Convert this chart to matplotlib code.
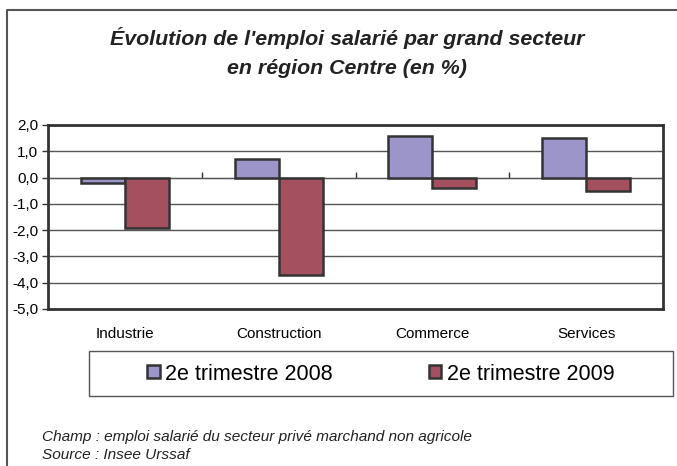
import matplotlib
matplotlib.use("Agg")
import matplotlib.pyplot as plt
from matplotlib.patches import Rectangle
from matplotlib.lines import Line2D
from matplotlib.ticker import FuncFormatter
import numpy as np

plt.rcParams['font.family'] = ['Liberation Sans', 'DejaVu Sans']

secteurs = ["Industrie", "Construction", "Commerce", "Services"]
t2_2008 = [-0.2, 0.7, 1.6, 1.5]
t2_2009 = [-1.9, -3.7, -0.4, -0.5]
series_labels = ["2e trimestre 2008", "2e trimestre 2009"]
y_ticks = [2, 1, 0, -1, -2, -3, -4, -5]

col_2008 = "#9b95c9"
col_2009 = "#a5505f"
edge = "#333333"

W, H = 677, 466
fig = plt.figure(figsize=(W / 100, H / 100), dpi=100)

# plot area in pixels: x 48..663, y 125..309
ax = fig.add_axes([48 / W, 1 - 309 / H, (663 - 48) / W, (309 - 125) / H])

x = np.arange(len(secteurs))
bw = 0.286
ax.bar(x - bw / 2, t2_2008, bw, color=col_2008, edgecolor=edge, linewidth=1.8,
       label=series_labels[0], zorder=3)
ax.bar(x + bw / 2, t2_2009, bw, color=col_2009, edgecolor=edge, linewidth=1.8,
       label=series_labels[1], zorder=3)

ymin, ymax = -5, 2
ax.set_ylim(ymin, ymax)
ax.set_xlim(-0.5, len(secteurs) - 0.5)
ax.set_yticks(y_ticks)
ax.yaxis.set_major_formatter(FuncFormatter(lambda v, p: f"{v:.1f}".replace(".", ",")))
ax.tick_params(axis='y', direction='out', length=4, width=1, color="#333333",
               labelsize=11, pad=3)
ax.yaxis.grid(True, color="#555555", linewidth=1)
ax.set_axisbelow(True)

ax.set_xticks(x)
ax.set_xticklabels(secteurs)
ax.tick_params(axis='x', length=0, labelsize=11, pad=13)

for s in ax.spines.values():
    s.set_color("#333333")
    s.set_linewidth(2)

# category separators at the zero line
zero_frac = (0 - ymin) / (ymax - ymin)
sec = ax.secondary_xaxis(zero_frac)
sec.set_xticks(x[:-1] + 0.5)
sec.set_xticklabels([])
sec.tick_params(axis='x', direction='out', length=4, width=1, color="#333333")
sec.spines['bottom'].set_visible(False)

# title
fig.text(347 / W, 1 - 38 / H, "Évolution de l'emploi salarié par grand secteur",
         ha='center', va='center', fontsize=15.4, fontweight='bold', style='italic',
         color="#222222")
fig.text(347 / W, 1 - 68 / H, "en région Centre (en %)",
         ha='center', va='center', fontsize=15.4, fontweight='bold', style='italic',
         color="#222222")

# legend
fig.patches.append(Rectangle((89 / W, 1 - 396 / H), (673 - 89) / W, 45 / H,
                             transform=fig.transFigure, fill=False,
                             edgecolor="#555555", linewidth=1))
handles, labels = ax.get_legend_handles_labels()
fig.legend(handles, labels, loc='center', bbox_to_anchor=(381 / W, 1 - 374 / H),
           ncol=2, frameon=False, fontsize=15.5, handlelength=0.56, handleheight=0.56,
           handletextpad=0.25, columnspacing=4.5)

# footnotes
fig.text(42 / W, 1 - 437 / H, "Champ : emploi salarié du secteur privé marchand non agricole",
         ha='left', va='center', fontsize=11.1, style='italic', color="#222222")
fig.text(42 / W, 1 - 455 / H, "Source : Insee Urssaf",
         ha='left', va='center', fontsize=11.1, style='italic', color="#222222")

# outer frame (top and left edges visible)
fig.lines.append(Line2D([7 / W, 7 / W, 1.0], [0.0, 1 - 10 / H, 1 - 10 / H],
                        transform=fig.transFigure, color="#555555", linewidth=1.5))

fig.savefig("out.png", dpi=100)
